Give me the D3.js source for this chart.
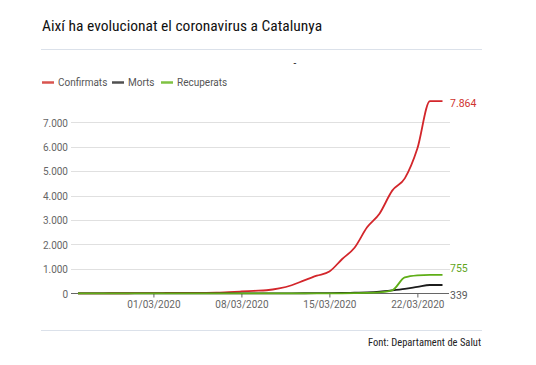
<!DOCTYPE html>
<html>
<head>
<meta charset="utf-8">
<script src="https://cdn.jsdelivr.net/npm/d3@7"></script>
<style>
  body { margin: 0; background: #fff; }
  svg { display: block; }
  .title { font-family: "Roboto Condensed", "DejaVu Sans Condensed", sans-serif; }
  .lbl { font-family: Roboto, sans-serif; }
</style>
</head>
<body>
<div id="chart"></div>
<script>
const dates = [
  '24/02/2020', '25/02/2020', '26/02/2020', '27/02/2020', '28/02/2020', '29/02/2020',
  '01/03/2020', '02/03/2020', '03/03/2020', '04/03/2020', '05/03/2020', '06/03/2020',
  '07/03/2020', '08/03/2020', '09/03/2020', '10/03/2020', '11/03/2020', '12/03/2020',
  '13/03/2020', '14/03/2020', '15/03/2020', '16/03/2020', '17/03/2020', '18/03/2020',
  '19/03/2020', '20/03/2020', '21/03/2020', '22/03/2020', '23/03/2020', '24/03/2020'
];
const confirmats = [
  0, 1, 1, 2, 3, 5, 6, 12, 15, 15, 18, 24, 49, 75, 101, 124, 200, 330,
  530, 720, 890, 1394, 1866, 2702, 3270, 4203, 4704, 5925, 7864, 7864
];
const morts = [
  0, 0, 0, 0, 0, 0, 0, 0, 0, 0, 0, 0, 0, 0, 0, 0, 0, 1,
  2, 5, 9, 12, 27, 41, 70, 120, 180, 260, 339, 339
];
const recuperats = [
  0, 0, 0, 0, 0, 0, 0, 0, 0, 0, 0, 0, 0, 0, 0, 0, 0, 0,
  0, 0, 0, 0, 5, 15, 40, 120, 650, 735, 755, 755
];
const seriesNames = ['Confirmats', 'Morts', 'Recuperats'];
const seriesColors = ['#d3262b', '#1c1c1c', '#5fae17'];
const legendColors = ['#d9544f', '#505050', '#7fc242'];
const labelColors = ['#d0332f', '#5a5a5a', '#62a51c'];
const yTicks = [0, 1000, 2000, 3000, 4000, 5000, 6000, 7000];
const xTicks = ['01/03/2020', '08/03/2020', '15/03/2020', '22/03/2020'];

const w = 536;
const h = 365;
const parse = d3.timeParse('%d/%m/%Y');
const fmt = d3.formatLocale({ decimal: ',', thousands: '.', grouping: [3], currency: ['', '€'] }).format(',d');

const svg = d3.select('#chart').append('svg').attr('width', w).attr('height', h);
svg.append('rect').attr('width', w).attr('height', h).attr('fill', '#fff');

svg.append('text')
  .attr('class', 'title')
  .attr('x', 42)
  .attr('y', 31)
  .attr('font-size', 15.5)
  .attr('fill', '#111')
  .text('Així ha evolucionat el coronavirus a Catalunya');

svg.append('line').attr('x1', 41).attr('x2', 482).attr('y1', 49.5).attr('y2', 49.5)
  .attr('stroke', '#dbe1ea');

svg.append('text').attr('x', 295).attr('y', 67).attr('font-size', 10).attr('fill', '#222')
  .attr('text-anchor', 'middle').attr('class', 'lbl').text('-');

// legend
const legendX = [42, 112, 161];
const legend = svg.append('g').attr('class', 'lbl');
seriesNames.forEach((n, i) => {
  legend.append('line')
    .attr('x1', legendX[i]).attr('x2', legendX[i] + 12)
    .attr('y1', 82.5).attr('y2', 82.5)
    .attr('stroke', legendColors[i]).attr('stroke-width', 2.5);
  legend.append('text')
    .attr('x', legendX[i] + 16).attr('y', 86)
    .attr('font-size', 10).attr('fill', '#555')
    .text(n);
});

const scaleX = d3.scaleTime()
  .domain([parse(dates[0]), parse(dates[dates.length - 1])])
  .range([78, 442.5]);
const scaleY = d3.scaleLinear().domain([0, 7000]).range([293.3, 122.3]);

// grid
const grid = svg.append('g');
grid.selectAll('line').data(yTicks.filter((d) => d > 0)).enter().append('line')
  .attr('x1', 71).attr('x2', 450)
  .attr('y1', (d) => Math.round(scaleY(d)) + 0.5).attr('y2', (d) => Math.round(scaleY(d)) + 0.5)
  .attr('stroke', '#e0e0e0');

const axisY = d3.axisLeft(scaleY).tickValues(yTicks).tickFormat(fmt).tickSize(0).tickPadding(3);
svg.append('g').attr('class', 'lbl').attr('transform', 'translate(71,0.5)').call(axisY)
  .call((g) => g.select('.domain').remove())
  .call((g) => g.selectAll('text').attr('font-size', 10).attr('fill', '#666').attr('font-family', 'Roboto, sans-serif'));

const axisX = d3.axisBottom(scaleX).tickValues(xTicks.map(parse))
  .tickFormat(d3.timeFormat('%d/%m/%Y')).tickSize(4).tickSizeOuter(0).tickPadding(3);
svg.append('g').attr('class', 'lbl').attr('transform', `translate(0, ${Math.round(scaleY(0)) + 0.5})`).call(axisX)
  .call((g) => g.select('.domain').attr('d', 'M71,0H449').attr('stroke', '#666'))
  .call((g) => g.selectAll('line').attr('stroke', '#666'))
  .call((g) => g.selectAll('text').attr('font-size', 10).attr('fill', '#666').attr('font-family', 'Roboto, sans-serif'));

// lines
const series = [confirmats, morts, recuperats];
const line = d3.line()
  .x((d, i) => scaleX(parse(dates[i])))
  .y((d) => scaleY(d))
  .curve(d3.curveMonotoneX);

svg.append('g').selectAll('path').data(series).enter().append('path')
  .attr('d', (d) => line(d))
  .attr('fill', 'none')
  .attr('stroke', (d, i) => seriesColors[i])
  .attr('stroke-width', 1.8)
  .attr('stroke-linejoin', 'round');

// direct labels at the end, spread apart so they don't collide
const last = series.map((s, i) => ({ v: s[s.length - 1], i, y: scaleY(s[s.length - 1]) }));
const sorted = last.slice().sort((a, b) => a.y - b.y);
const minGap = 27;
for (let k = 1; k < sorted.length; k++) {
  const a = sorted[k - 1];
  const b = sorted[k];
  if (b.y - a.y < minGap) {
    const mid = (a.y + b.y) / 2;
    a.y = mid - minGap / 2;
    b.y = mid + minGap / 2;
  }
}
svg.append('g').attr('class', 'lbl').selectAll('text').data(last).enter().append('text')
  .attr('x', 450)
  .attr('y', (d) => d.y + 2)
  .attr('dy', '0.35em')
  .attr('font-size', 10.5)
  .attr('fill', (d) => labelColors[d.i])
  .text((d) => fmt(d.v));

svg.append('line').attr('x1', 41).attr('x2', 482).attr('y1', 330.5).attr('y2', 330.5)
  .attr('stroke', '#dbe1ea');

svg.append('text')
  .attr('class', 'title')
  .attr('x', 481).attr('y', 346)
  .attr('text-anchor', 'end')
  .attr('font-size', 10.5)
  .attr('fill', '#222')
  .text('Font: Departament de Salut');
</script>
</body>
</html>
